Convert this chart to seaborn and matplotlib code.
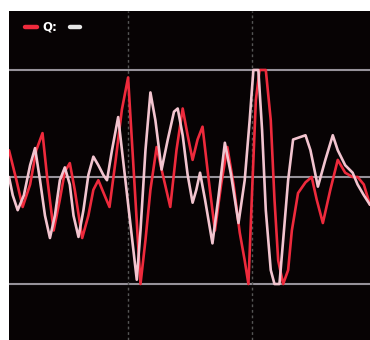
import matplotlib
matplotlib.use("Agg")
import matplotlib.pyplot as plt
from matplotlib.lines import Line2D
import numpy as np
import pandas as pd
import seaborn as sns

# In-phase (I) trace: time (us) and normalised amplitude
t_i = [0.04, 0.10, 0.15, 0.21, 0.26, 0.31, 0.35, 0.40, 0.45, 0.49,
       0.53, 0.57, 0.63, 0.68, 0.72, 0.76, 0.81, 0.85, 0.90, 0.95,
       1.00, 1.10, 1.14, 1.18, 1.23, 1.28, 1.34, 1.39,
       1.44, 1.48, 1.52, 1.56, 1.60, 1.65, 1.70, 1.75, 1.80, 1.85,
       1.90, 1.94, 1.97, 2.00, 2.03, 2.06, 2.11, 2.15, 2.18, 2.21,
       2.25, 2.29, 2.32, 2.37, 2.43, 2.48, 2.52, 2.57, 2.63, 2.69,
       2.75, 2.81, 2.85, 2.90, 2.95]
v_i = [0.25, -0.03, -0.28, -0.07, 0.25, 0.41, -0.03, -0.50, -0.21, 0.05,
       0.13, -0.12, -0.57, -0.36, -0.12, -0.03, -0.17, -0.28, 0.16, 0.63,
       0.93, -1.0, -0.59, -0.12, 0.28, 0.02, -0.28, 0.25,
       0.64, 0.39, 0.16, 0.35, 0.47, -0.03, -0.50, -0.07, 0.28, -0.07,
       -0.52, -0.78, -1.0, -0.12, 0.72, 1.0, 1.0, 0.53, -0.21, -0.78,
       -1.0, -0.87, -0.50, -0.15, -0.05, 0.0, -0.21, -0.43, -0.12, 0.16,
       0.04, 0.0, 0.0, -0.07, -0.26]

# Quadrature (Q) trace
t_q = [0.04, 0.07, 0.11, 0.16, 0.21, 0.25, 0.29, 0.33, 0.37, 0.41,
       0.45, 0.49, 0.53, 0.56, 0.60, 0.64, 0.68, 0.72, 0.76, 0.80,
       0.83, 0.87, 0.92, 1.07, 1.10, 1.14, 1.18, 1.22, 1.27, 1.32,
       1.37, 1.40, 1.44, 1.48, 1.52, 1.55, 1.58, 1.62, 1.68, 1.73,
       1.78, 1.83, 1.89, 1.94, 1.98, 2.01, 2.05, 2.08, 2.11, 2.15,
       2.18, 2.22, 2.25, 2.29, 2.33, 2.38, 2.43, 2.47, 2.53, 2.59,
       2.65, 2.69, 2.75, 2.81, 2.85, 2.90, 2.95]
v_q = [0.0, -0.17, -0.31, -0.17, 0.11, 0.27, -0.03, -0.36, -0.57, -0.36,
       -0.03, 0.09, -0.07, -0.36, -0.56, -0.31, 0.02, 0.19, 0.11, 0.02,
       -0.03, 0.25, 0.56, -0.96, -0.50, 0.25, 0.79, 0.53, 0.07, 0.35,
       0.61, 0.64, 0.39, 0.02, -0.24, -0.12, 0.04, -0.21, -0.62, -0.17,
       0.32, 0.02, -0.43, -0.03, 0.53, 1.0, 1.0, 0.44, -0.31, -0.87,
       -1.0, -1.0, -0.59, -0.03, 0.35, 0.37, 0.39, 0.25, -0.09, 0.16,
       0.39, 0.25, 0.11, 0.04, -0.07, -0.17, -0.26]

series_names = ["I", "Q"]
series_colors = {"I": "#ee2a3c", "Q": "#f2c4cf"}

df = pd.concat([
    pd.DataFrame({"t": t_i, "v": v_i, "ch": "I"}),
    pd.DataFrame({"t": t_q, "v": v_q, "ch": "Q"}),
], ignore_index=True)

sns.set_style("dark")
W, H = 370, 340
fig = plt.figure(figsize=(W / 100, H / 100), dpi=100, facecolor="white")
ax = fig.add_axes([9 / W, 0, (W - 9) / W, (H - 11) / H])
ax.set_facecolor("#070304")

# reference lines: full scale and zero
for level in (-1, 0, 1):
    ax.axhline(level, color="#96929a", lw=1.5, zorder=1)
for tick in (1, 2):
    ax.axvline(tick, color="#555555", lw=1.0, ls=(0, (2, 2)), zorder=1)

sns.lineplot(data=df, x="t", y="v", hue="ch", hue_order=series_names,
             palette=series_colors, estimator=None, sort=False,
             lw=1.9, legend=False, ax=ax, zorder=3)
for ln in ax.get_lines()[-2:]:
    ln.set_solid_joinstyle("round")
    ln.set_solid_capstyle("round")

ax.set_xlim(0.04, 2.95)
ax.set_ylim(-1.523, 1.551)
ax.set_xticks([])
ax.set_yticks([])
ax.set_xlabel("")
ax.set_ylabel("")
for sp in ax.spines.values():
    sp.set_visible(False)

# channel key along the top edge
ky = 1 - 27 / H
fig.text(9 / W, ky, "I:", color="white", fontsize=8.5, fontweight="bold",
         ha="right", va="center")
fig.add_artist(Line2D([25 / W, 37 / W], [ky, ky], color=series_colors["I"], lw=3.2))
fig.text(42 / W, ky, "Q:", color="white", fontsize=8.5, fontweight="bold",
         ha="left", va="center")
fig.add_artist(Line2D([70 / W, 80 / W], [ky, ky], color="#e6e6e6", lw=3.2))

fig.savefig("out.png", dpi=100, facecolor="white")
